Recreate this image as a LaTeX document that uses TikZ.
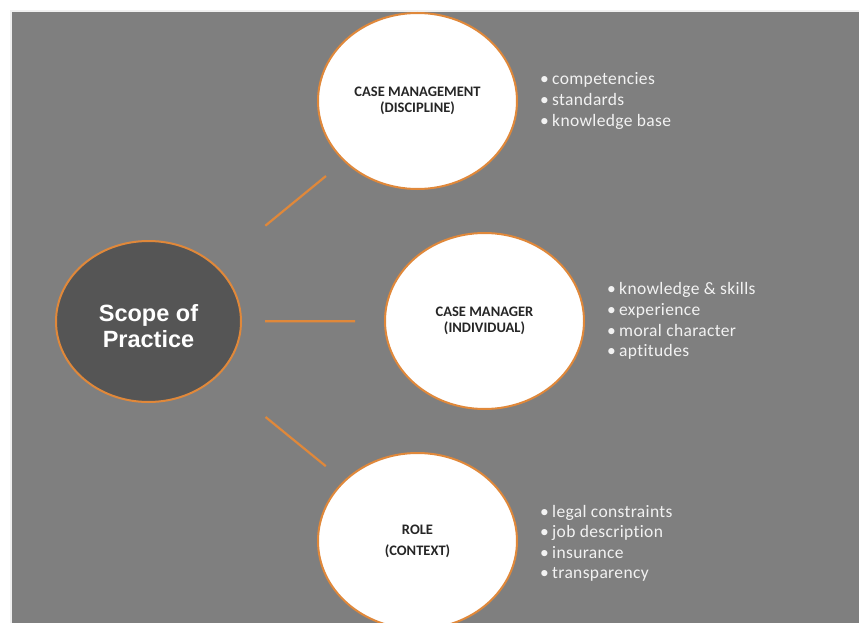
\documentclass[tikz,border=0pt]{standalone}
\usepackage{fontspec}
\setmainfont{Carlito}[Ligatures=NoCommon]
\newfontfamily\arialfont{Liberation Sans}
\usepackage{tikz}
\usetikzlibrary{shapes.geometric}
\definecolor{panel}{HTML}{7F7F7F}
\definecolor{hubc}{HTML}{555555}
\definecolor{rimc}{HTML}{E0883A}
\definecolor{inkc}{HTML}{262626}
\definecolor{itemc}{HTML}{F2F2F2}
\tikzset{
  hub/.style={ellipse,draw=rimc,line width=2pt,fill=hubc,minimum width=185pt,minimum height=161pt,inner sep=0pt,text=white,align=center,font=\arialfont\bfseries\fontsize{23.5}{26}\selectfont},
  area/.style={ellipse,draw=rimc,line width=2pt,fill=white,minimum width=199pt,minimum height=176pt,inner sep=0pt,text=inkc,align=center,font=\bfseries\fontsize{14.5}{16}\selectfont},
  link/.style={rimc,line width=2.2pt},
  item/.style={anchor=base west,inner sep=0pt,text=itemc,font=\addfontfeature{LetterSpace=2}\fontsize{17.5}{21}\selectfont}
}
\newcommand{\bul}{\makebox[12pt][l]{\textbullet}}

\begin{document}
\begin{tikzpicture}[x=1pt,y=-1pt]
\useasboundingbox (0,0) rectangle (859,623);
\clip (0,0) rectangle (859,623);
\fill[white] (0,0) rectangle (859,623);
\fill[black!6] (10,10) rectangle (859,623);
\fill[panel] (12,12) rectangle (859,623);
\node[hub] (scope) at (148.5,321.5) {\rule{0pt}{27pt}Scope of\\Practice};
\node[area] (disc) at (417.5,101) {CASE MANAGEMENT\\(DISCIPLINE)};
\node[area] (indiv) at (484.5,321) {CASE MANAGER\\(INDIVIDUAL)};
\node[area] (ctx) at (417.5,541) {ROLE\\[5pt](CONTEXT)};
\draw[link,shorten <=63pt,shorten >=23pt] (scope) -- (disc);
\draw[link,shorten <=23pt,shorten >=29pt] (scope) -- (indiv);
\draw[link,shorten <=63pt,shorten >=23pt] (scope) -- (ctx);
\foreach \t [count=\i] in {competencies,standards,knowledge base}
  \node[item] (cm\i) at (540,64+21*\i) {\bul\t};
\foreach \t [count=\i] in {knowledge \& skills,experience,moral character,aptitudes}
  \node[item] (mg\i) at (607,274+20.7*\i) {\bul\t};
\foreach \t [count=\i] in {legal constraints,job description,insurance,transparency}
  \node[item] (rl\i) at (540,496.5+20.5*\i) {\bul\t};
\end{tikzpicture}
\end{document}
